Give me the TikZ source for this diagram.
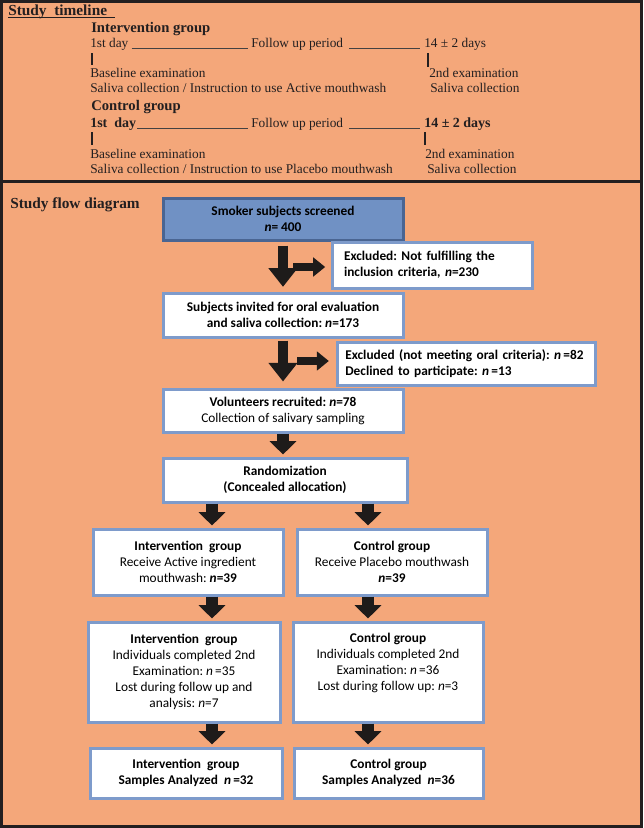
\documentclass[tikz,border=0pt]{standalone}
\usepackage{fontspec}
\setmainfont{Liberation Serif}
\setsansfont{Carlito}
\usetikzlibrary{positioning,arrows.meta}

\definecolor{bgorange}{RGB}{244,167,122}
\definecolor{framedark}{RGB}{35,31,32}
\definecolor{boxedge}{RGB}{126,155,203}
\definecolor{topfill}{RGB}{112,145,196}
\definecolor{topedge}{RGB}{74,101,146}
\definecolor{arrowdark}{RGB}{30,27,26}

\frenchspacing
\begin{document}
\begin{tikzpicture}[x=0.75pt, y=-0.75pt,
            tltext/.style={anchor=base west, inner sep=0pt, text=framedark, font=\fontsize{10}{12}\selectfont},
            tlhead/.style={tltext, font=\fontsize{11}{13}\selectfont\bfseries},
            tlbold/.style={tltext, font=\fontsize{10.5}{12}\selectfont\bfseries},
            tlline/.style={draw=framedark!85, line width=0.6pt},
            tltick/.style={draw=framedark, line width=1.5pt},
            flowbox/.style={rectangle, draw=boxedge, fill=white, line width=2.25pt, align=center, inner sep=2pt,
                            text=black, font=\sffamily\fontsize{10}{12}\selectfont},
            exclbox/.style={flowbox, align=left, font=\sffamily\bfseries\fontsize{10}{12}\selectfont},
            bigarrow/.style={draw=arrowdark, line width=7.5pt, -{Triangle[length=14pt,width=21pt]}},
            sidearrow/.style={draw=arrowdark, line width=6pt, -{Triangle[length=9pt,width=14pt]}},
            shortarrow/.style={draw=arrowdark, line width=9pt, -{Triangle[length=10pt,width=19.5pt]}, shorten >=1.5pt},
            ]
            \useasboundingbox (0,0) rectangle (643,828);
            %Background and frame
            \fill[bgorange] (0,0) rectangle (643,828);
            \draw[framedark, line width=2.25pt] (1.5,1.5) rectangle (641.5,826.5);
            \draw[framedark, line width=2.25pt] (0,181) -- (643,181);

            %Timeline
            \node[tlhead, font=\fontsize{11.5}{13}\selectfont\bfseries] (tl) at (8,15) {Study\ \ timeline};
            \draw[framedark, line width=0.8pt] ([shift={(0,2.5)}]tl.base west) -- (115,17.5);

            \node[tlhead]      (ig)     at (91,32)   {Intervention group};
            \node[tltext]      (ia)     at (90,47)   {1st day};
            \node[tltext]      (ib)     at (251,47)  {Follow up period};
            \node[tltext]      (ic)     at (424,47)  {14 ± 2 days};
            \node[tltext]      (ibase)  at (90,77)   {Baseline examination};
            \node[tltext]      (isal)   at (90,92)   {Saliva collection / Instruction to use Active mouthwash};
            \node[tltext]      (isec)   at (429,77)  {2nd examination};
            \node[tltext]      (isalb)  at (430,92)  {Saliva collection};

            \draw[tlline] ([shift={(3,1)}]ia.base east) -- ([shift={(-3,1)}]ib.base west);
            \draw[tlline] ([shift={(6,1)}]ib.base east) -- ([shift={(-4,1)}]ic.base west);
            \draw[tltick] ([shift={(2,6)}]ia.base west) -- ++(0,12);
            \draw[tltick] ([shift={(4,6)}]ic.base west) -- ++(0,14);

            \node[tlhead]      (cg)     at (91,110)  {Control group};
            \node[tlbold]      (ca)     at (90,127)  {1st\ \ day};
            \node[tltext]      (cb)     at (251,127) {Follow up period};
            \node[tlbold]      (cc)     at (424,127) {14 ± 2 days};
            \node[tltext]      (cbase)  at (90,158)  {Baseline examination};
            \node[tltext]      (csal)   at (90,173)  {Saliva collection / Instruction to use Placebo mouthwash};
            \node[tltext]      (csec)   at (425,158) {2nd examination};
            \node[tltext]      (csalb)  at (427,173) {Saliva collection};

            \draw[tlline] ([shift={(1,1)}]ca.base east) -- ([shift={(-3,1)}]cb.base west);
            \draw[tlline] ([shift={(6,1)}]cb.base east) -- ([shift={(-4,1)}]cc.base west);
            \draw[tltick] ([shift={(2,5)}]ca.base west) -- ++(0,13);
            \draw[tltick] ([shift={(1,5)}]cc.base west) -- ++(0,13);

            %Flow diagram
            \node[tlhead, font=\fontsize{11.5}{13}\selectfont\bfseries] (fd) at (10,208) {Study flow diagram};

            \node[flowbox, fill=topfill, draw=topedge, minimum width=180pt, minimum height=31.5pt, font=\sffamily\bfseries\fontsize{10}{12}\selectfont]
                                (scr)   at (283,219)   {Smoker subjects screened\\\textit{n}= 400};
            \node[exclbox, text width=132pt, inner xsep=9pt, minimum height=34.5pt]
                                (exa)   at (432,265)   {Excluded: Not fulfilling the\\inclusion criteria, \textit{n}=230};
            \node[flowbox, minimum width=180pt, minimum height=33pt, font=\sffamily\bfseries\fontsize{10}{12}\selectfont]
                                (inv)   at (283,315)   {Subjects invited for oral evaluation\\and saliva collection: \textit{n}=173};
            \node[exclbox, text width=181pt, inner xsep=6.25pt, minimum height=32.25pt]
                                (exb)   at (466,363.5) {Excluded (not meeting oral criteria): \textit{n}\,=82\\Declined to participate: \textit{n}\,=13};
            \node[flowbox, minimum width=180pt, minimum height=32.25pt]
                                (vol)   at (283,410.5) {\textbf{Volunteers recruited: \textit{n}=78}\\Collection of salivary sampling};
            \node[flowbox, minimum width=183pt, minimum height=33pt, font=\sffamily\bfseries\fontsize{10}{12}\selectfont]
                                (rnd)   at (285,480)   {Randomization\\(Concealed allocation)};

            \node[flowbox, minimum width=142.5pt, minimum height=49.5pt]
                                (inta)  at (188,562)   {\textbf{Intervention\ \ group}\\Receive Active ingredient\\mouthwash: \textbf{\textit{n}=39}};
            \node[flowbox, minimum width=142.5pt, minimum height=49.5pt]
                                (ctla)  at (392,562)   {\textbf{Control group}\\Receive Placebo mouthwash\\\textbf{\textit{n}=39}};
            \node[flowbox, minimum width=144pt, minimum height=75pt]
                                (intb)  at (184,672)   {\textbf{Intervention\ \ group}\\Individuals completed 2nd\\Examination: \textit{n}\,=35\\Lost during follow up and\\analysis: \textit{n}=7};
            \node[flowbox, minimum width=142.5pt, minimum height=75pt]
                                (ctlb)  at (388,672)   {\textbf{Control group}\\Individuals completed 2nd\\Examination: \textit{n}\,=36\\Lost during follow up: \textit{n}=3\\\strut};
            \node[flowbox, minimum width=144pt, minimum height=37.5pt, font=\sffamily\bfseries\fontsize{10}{12}\selectfont]
                                (intc)  at (186,773)   {Intervention\ \ group\\Samples Analyzed\ \ \textit{n}\,=32};
            \node[flowbox, minimum width=141.75pt, minimum height=37.5pt, font=\sffamily\bfseries\fontsize{10}{12}\selectfont]
                                (ctlc)  at (388.5,773) {Control group\\Samples Analyzed\ \ \textit{n}=36};

            \coordinate (sa) at (293,267);
            \coordinate (sb) at (297,361);
            \coordinate (colL) at (212,0);
            \coordinate (colR) at (368,0);

            %Arrows
            \draw[bigarrow, shorten <=3pt, shorten >=3.5pt] (scr.south) -- (inv.north);
            \draw[sidearrow, shorten >=4pt] (sa) -- (sa -| exa.west);
            \draw[bigarrow, shorten <=1.5pt, shorten >=4.5pt] (inv.south) -- (vol.north);
            \draw[sidearrow, shorten >=5pt] (sb) -- (sb -| exb.west);
            \draw[shortarrow] (vol.south) -- (vol.south |- rnd.north);
            \draw[shortarrow] (colL |- rnd.south) -- (colL |- inta.north);
            \draw[shortarrow] (colR |- rnd.south) -- (colR |- ctla.north);
            \draw[shortarrow] (colL |- inta.south) -- (colL |- intb.north);
            \draw[shortarrow] (colR |- ctla.south) -- (colR |- ctlb.north);
            \draw[shortarrow] (colL |- intb.south) -- (colL |- intc.north);
            \draw[shortarrow] (colR |- ctlb.south) -- (colR |- ctlc.north);

        \end{tikzpicture}
\end{document}
